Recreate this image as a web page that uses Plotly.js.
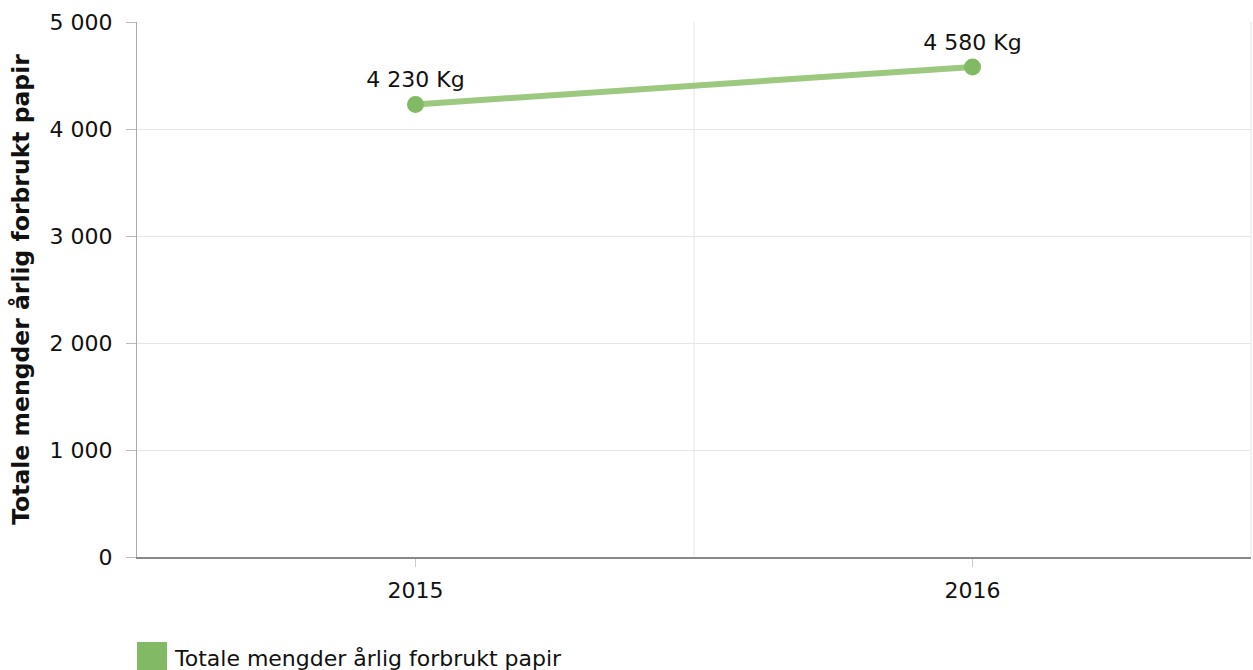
<!DOCTYPE html>
<html>
<head>
<meta charset="utf-8">
<script src="https://cdn.plot.ly/plotly-3.0.1.min.js"></script>
<style>html,body{margin:0;padding:0;background:#fff;}#chart{width:1253px;height:670px;}</style>
</head>
<body>
<div id="chart"></div>
<script>
const categories = ['2015', '2016'];
const values = [4230, 4580];
const labels = ['4 230 Kg', '4 580 Kg'];
const seriesName = 'Totale mengder årlig forbrukt papir';
const yTicks = [0, 1000, 2000, 3000, 4000, 5000];
const yTickText = ['0', '1 000', '2 000', '3 000', '4 000', '5 000'];

const font = {family: 'DejaVu Sans, Verdana, sans-serif', size: 22, color: '#111'};
const idx = categories.map((c, i) => i);

const trace = {
  x: idx, y: values, type: 'scatter', mode: 'lines+markers+text',
  text: labels, textposition: 'top center', textfont: font,
  line: {color: '#9cc97f', width: 6},
  marker: {color: '#82b964', size: 17},
  showlegend: false, hoverinfo: 'x+y', cliponaxis: false
};

const layout = {
  width: 1253, height: 670,
  margin: {l: 137, r: 2, t: 22, b: 113},
  paper_bgcolor: '#fff', plot_bgcolor: '#fff',
  font: font,
  showlegend: false,
  xaxis: {
    range: [-0.5, categories.length - 0.5],
    tickvals: idx, ticktext: categories,
    showgrid: false, zeroline: false,
    showline: true, linecolor: '#888', linewidth: 2,
    ticks: 'outside', ticklen: 8, tickcolor: '#ccc', tickwidth: 1,
    ticklabelstandoff: 5,
    tickfont: font
  },
  yaxis: {
    range: [0, 5000],
    tickvals: yTicks, ticktext: yTickText,
    showgrid: true, gridcolor: '#e6e6e6', gridwidth: 1,
    zeroline: false,
    showline: true, linecolor: '#aaa', linewidth: 1,
    ticks: 'outside', ticklen: 10, tickcolor: '#bbb', tickwidth: 1,
    ticklabelstandoff: 9,
    tickfont: font,
    title: {text: '<b>Totale mengder årlig forbrukt papir</b>', font: {family: font.family, size: 23.5, color: '#111'}, standoff: 13}
  },
  shapes: [
    {type: 'line', xref: 'x', yref: 'paper', x0: 0.5, x1: 0.5, y0: 0, y1: 1, line: {color: '#e6e6e6', width: 1}, layer: 'below'},
    {type: 'line', xref: 'paper', yref: 'paper', x0: 1, x1: 1, y0: 0, y1: 1, line: {color: '#e6e6e6', width: 1}, layer: 'below'},
    {type: 'rect', xref: 'paper', yref: 'paper', x0: 0, x1: 30/1114, y0: -(642-557)/535, y1: -(670-557)/535, fillcolor: '#82b964', line: {width: 0}}
  ],
  annotations: [
    {xref: 'paper', yref: 'paper', x: 35/1114, y: -(658-557)/535, xanchor: 'left', yanchor: 'middle', text: seriesName, showarrow: false, font: font}
  ]
};

Plotly.newPlot('chart', [trace], layout, {displayModeBar: false, staticPlot: true});
</script>
</body>
</html>
